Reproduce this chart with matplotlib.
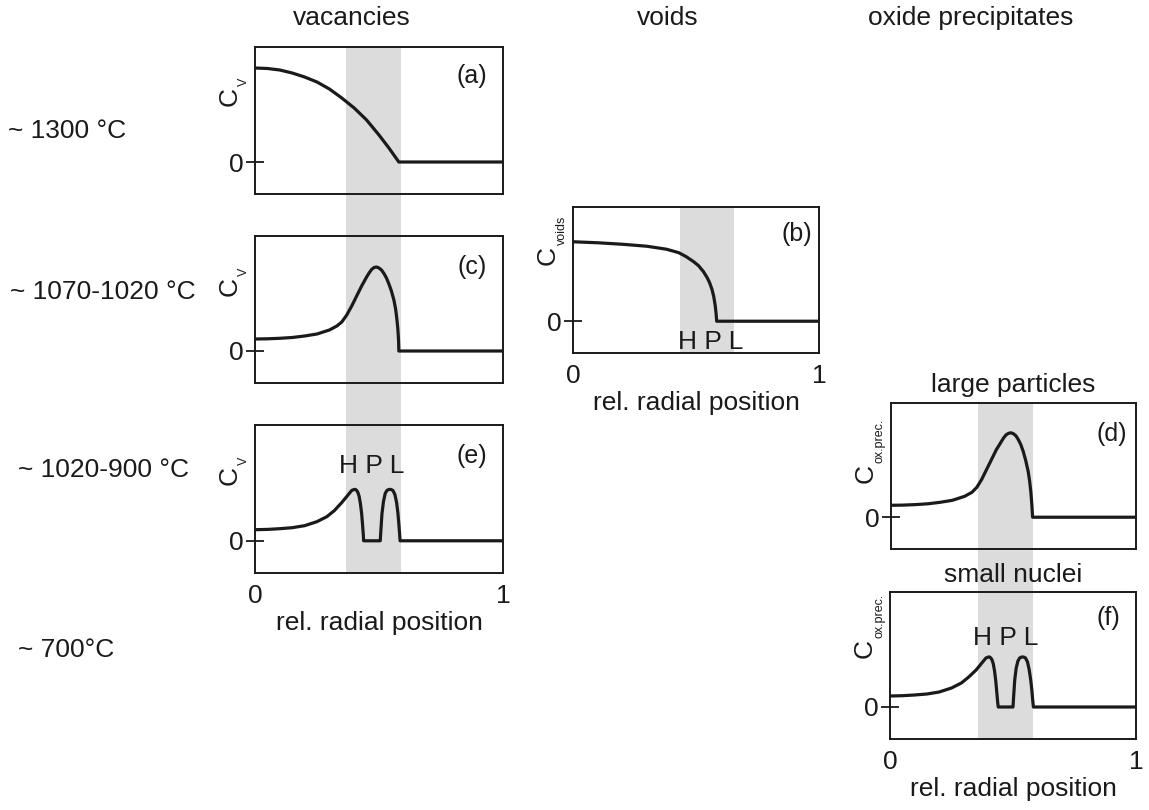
import numpy as np
import matplotlib
matplotlib.use('Agg')
import matplotlib.pyplot as plt
import matplotlib.transforms as mtransforms
from matplotlib.patches import Rectangle

plt.rcParams['font.family'] = ['Liberation Sans', 'DejaVu Sans']

W, H = 1149, 810
INK = '#1a1a1a'
GREY = '#dcdcdc'
FS = 19

# ---- data (x = rel. radial position, y = concentration, arb. units)
# (a) vacancies ~1300 C
x_a = [0, 0.05, 0.10, 0.15, 0.20, 0.25, 0.30, 0.35, 0.40, 0.45, 0.50, 0.54, 0.58, 1.0]
y_a = [0.94, 0.935, 0.92, 0.89, 0.85, 0.80, 0.73, 0.64, 0.54, 0.42, 0.27, 0.14, 0.0, 0.0]

# (c) vacancies ~1070-1020 C
x_c = [0, 0.05, 0.10, 0.15, 0.20, 0.25, 0.30, 0.33, 0.35, 0.37, 0.39, 0.41, 0.43, 0.45,
       0.46, 0.47, 0.48, 0.49, 0.50, 0.51, 0.52, 0.53, 0.54, 0.55, 0.56, 0.567, 0.572,
       0.576, 0.579, 0.58, 1.0]
y_c = [0.12, 0.122, 0.127, 0.135, 0.15, 0.17, 0.21, 0.25, 0.29, 0.36, 0.45, 0.55, 0.65, 0.74,
       0.78, 0.815, 0.835, 0.84, 0.83, 0.81, 0.775, 0.73, 0.67, 0.60, 0.51, 0.42, 0.32,
       0.22, 0.10, 0.0, 0.0]

# (e) vacancies ~1020-900 C
x_e = [0, 0.05, 0.10, 0.15, 0.20, 0.25, 0.29, 0.32, 0.35, 0.37, 0.38, 0.39, 0.40, 0.405,
       0.41, 0.415, 0.42, 0.425, 0.43, 0.434, 0.437, 0.438, 0.505, 0.508, 0.512, 0.518,
       0.525, 0.532, 0.54, 0.548, 0.556, 0.564, 0.571, 0.576, 0.58, 0.583, 0.585, 1.0]
y_e = [0.11, 0.113, 0.12, 0.13, 0.15, 0.19, 0.24, 0.30, 0.38, 0.44, 0.47, 0.50, 0.51, 0.51,
       0.50, 0.48, 0.44, 0.37, 0.27, 0.15, 0.05, 0.0, 0.0, 0.12, 0.27, 0.39,
       0.47, 0.50, 0.51, 0.51, 0.50, 0.46, 0.38, 0.28, 0.17, 0.07, 0.0, 0.0]

# (b) voids
x_b = [0, 0.1, 0.2, 0.3, 0.38, 0.43, 0.46, 0.49, 0.51, 0.53, 0.545, 0.555, 0.565, 0.572,
       0.578, 0.582, 0.584, 1.0]
y_b = [0.80, 0.79, 0.775, 0.755, 0.725, 0.69, 0.65, 0.60, 0.56, 0.50, 0.44, 0.39, 0.32, 0.25,
       0.16, 0.07, 0.0, 0.0]

# (d) oxide precipitates, large particles
x_d = [0, 0.05, 0.10, 0.15, 0.20, 0.25, 0.30, 0.33, 0.35, 0.37, 0.39, 0.41, 0.43, 0.45,
       0.46, 0.47, 0.48, 0.49, 0.50, 0.51, 0.52, 0.53, 0.54, 0.55, 0.56, 0.566, 0.571,
       0.575, 0.578, 1.0]
y_d = [0.12, 0.122, 0.127, 0.135, 0.15, 0.17, 0.21, 0.25, 0.30, 0.38, 0.48, 0.58, 0.68, 0.76,
       0.80, 0.83, 0.845, 0.85, 0.84, 0.82, 0.78, 0.73, 0.66, 0.57, 0.46, 0.36, 0.25,
       0.12, 0.0, 0.0]

# (f) oxide precipitates, small nuclei
x_f = [0, 0.05, 0.10, 0.15, 0.20, 0.25, 0.29, 0.32, 0.35, 0.37, 0.38, 0.39, 0.40, 0.405,
       0.41, 0.415, 0.42, 0.425, 0.43, 0.434, 0.438, 0.44, 0.50, 0.503, 0.507, 0.513,
       0.52, 0.527, 0.535, 0.543, 0.551, 0.559, 0.566, 0.572, 0.577, 0.58, 0.583, 1.0]
y_f = [0.11, 0.113, 0.12, 0.13, 0.15, 0.19, 0.24, 0.30, 0.37, 0.43, 0.46, 0.49, 0.50, 0.50,
       0.49, 0.47, 0.43, 0.36, 0.26, 0.15, 0.04, 0.0, 0.0, 0.12, 0.27, 0.39,
       0.46, 0.49, 0.50, 0.50, 0.49, 0.45, 0.37, 0.27, 0.16, 0.07, 0.0, 0.0]

band_left = [0.367, 0.589]
band_mid = [0.435, 0.654]
band_right = [0.356, 0.579]

col_titles = ['vacancies', 'voids', 'oxide precipitates']
row_labels = ['~ 1300 °C', '~ 1070-1020 °C', '~ 1020-900 °C', '~ 700°C']
hpl = 'H P L'


def box(l, t, r, b):
    return [l / W, 1 - b / H, (r - l) / W, (b - t) / H]


fig = plt.figure(figsize=(W / 100, H / 100), dpi=100)


def panel(rect, xs, ys, letter, lpos, sub, c_y, show_x=False, band=None):
    ax = fig.add_axes(box(*rect))
    ax.set_facecolor('none')
    if band is not None:
        ax.axvspan(band[0], band[1], color=GREY, lw=0, zorder=0)
    ax.plot(xs, ys, color=INK, lw=2.3, solid_joinstyle='round', zorder=3)
    ax.set_xlim(0, 1)
    ax.set_ylim(-0.32, 1.15)
    for s in ax.spines.values():
        s.set_linewidth(1.4)
        s.set_color(INK)
    ax.set_yticks([0])
    ax.tick_params(axis='y', direction='inout', length=13, width=1.3, pad=2,
                   labelsize=FS, colors=INK)
    if show_x:
        ax.set_xticks([0, 1])
        ax.tick_params(axis='x', length=0, pad=8, labelsize=FS, colors=INK)
        ax.set_xlabel('rel. radial position', fontsize=FS, color=INK, labelpad=2)
    else:
        ax.set_xticks([])
    ax.text(lpos[0], lpos[1], letter, transform=ax.transAxes, fontsize=18,
            ha='center', va='center', color=INK)
    # C with a small subscript, rotated
    tc = mtransforms.offset_copy(ax.transAxes, fig=fig, x=-18, y=0, units='dots')
    ax.text(0, c_y, 'C', transform=tc, rotation=90, rotation_mode='anchor',
            ha='left', va='baseline', fontsize=FS, color=INK)
    ts = mtransforms.offset_copy(ax.transAxes, fig=fig, x=-8, y=20, units='dots')
    ax.text(0, c_y, sub, transform=ts, rotation=90, rotation_mode='anchor',
            ha='left', va='baseline', fontsize=9, color=INK)
    return ax


ax_a = panel((255, 47, 503, 194), x_a, y_a, '(a)', (0.875, 0.80), 'V', 0.60)
ax_c = panel((255, 236, 503, 383), x_c, y_c, '(c)', (0.875, 0.79), 'V', 0.595)
ax_e = panel((255, 425, 503, 573), x_e, y_e, '(e)', (0.875, 0.79), 'V', 0.595, show_x=True)
ax_b = panel((573, 207, 819, 353), x_b, y_b, '(b)', (0.91, 0.815), 'voids', 0.60,
             show_x=True, band=band_mid)
ax_d = panel((891, 403, 1136, 549), x_d, y_d, '(d)', (0.90, 0.79), 'ox.prec.', 0.45)
ax_f = panel((890, 592, 1136, 739), x_f, y_f, '(f)', (0.886, 0.82), 'ox.prec.', 0.55,
             show_x=True)

ax_d.set_title('large particles', fontsize=FS, color=INK, pad=8)
ax_f.set_title('small nuclei', fontsize=FS, color=INK, pad=7)

ax_e.text(0.47, 0.72, hpl, transform=ax_e.transAxes, fontsize=FS, ha='center', va='center', color=INK)
ax_b.text(0.56, 0.075, hpl, transform=ax_b.transAxes, fontsize=FS, ha='center', va='center', color=INK)
ax_f.text(0.47, 0.69, hpl, transform=ax_f.transAxes, fontsize=FS, ha='center', va='center', color=INK)

# grey bands running through the stacked panels
tr_l = mtransforms.blended_transform_factory(ax_a.transData, fig.transFigure)
fig.patches.append(Rectangle((band_left[0], 1 - 573 / H), band_left[1] - band_left[0],
                             (573 - 47) / H, transform=tr_l, color=GREY, lw=0, zorder=-1))
tr_r = mtransforms.blended_transform_factory(ax_d.transData, fig.transFigure)
fig.patches.append(Rectangle((band_right[0], 1 - 739 / H), band_right[1] - band_right[0],
                             (739 - 403) / H, transform=tr_r, color=GREY, lw=0, zorder=-1))

for t, xc in zip(col_titles, [352, 668, 971]):
    fig.text(xc / W, 1 - 18 / H, t, fontsize=FS, ha='center', va='center', color=INK)

for t, (xl, yc) in zip(row_labels, [(8, 131), (10, 292), (18, 470), (18, 650)]):
    fig.text(xl / W, 1 - yc / H, t, fontsize=FS, ha='left', va='center', color=INK)

fig.savefig('out.png', dpi=100)
